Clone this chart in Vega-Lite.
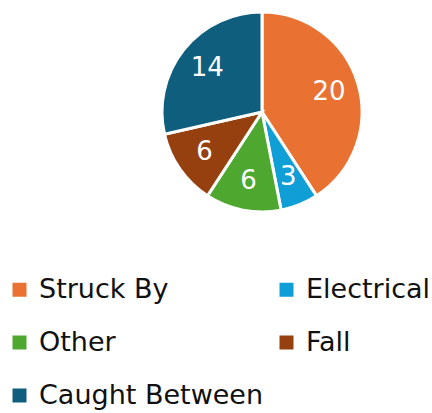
{
  "$schema": "https://vega.github.io/schema/vega-lite/v6.json",
  "width": 200,
  "height": 200,
  "autosize": {"type": "none"},
  "padding": {"left": 162, "top": 12, "right": 70, "bottom": 201},
  "background": "white",
  "config": {"view": {"stroke": null}},
  "data": {"values": [
    {"cause": "Struck By", "count": 20, "rank": 1},
    {"cause": "Electrical", "count": 3, "rank": 2},
    {"cause": "Other", "count": 6, "rank": 3},
    {"cause": "Fall", "count": 6, "rank": 4},
    {"cause": "Caught Between", "count": 14, "rank": 5}
  ]},
  "encoding": {
    "theta": {"field": "count", "type": "quantitative", "stack": true},
    "order": {"field": "rank", "type": "quantitative", "sort": "ascending"},
    "color": {
      "field": "cause", "type": "nominal",
      "sort": ["Struck By", "Electrical", "Other", "Fall", "Caught Between"],
      "scale": {
        "domain": ["Struck By", "Electrical", "Other", "Fall", "Caught Between"],
        "range": ["#E97132", "#0F9ED5", "#4EA72E", "#963F0F", "#0F5E7E"]
      },
      "legend": {
        "title": null,
        "orient": "none",
        "direction": "horizontal",
        "legendX": -156,
        "legendY": 264,
        "columns": 2,
        "columnPadding": 9,
        "rowPadding": 25,
        "symbolType": "square",
        "symbolSize": 196,
        "symbolStrokeWidth": 0,
        "labelFont": "DejaVu Sans",
        "labelFontSize": 27,
        "labelColor": "#111111",
        "labelOffset": 6,
        "labelLimit": 400
      }
    }
  },
  "layer": [
    {"mark": {"type": "arc", "outerRadius": 100, "stroke": "white", "strokeWidth": 3}},
    {"mark": {"type": "text", "radius": 70, "fontSize": 26, "font": "DejaVu Sans", "fill": "white"},
     "encoding": {"text": {"field": "count", "type": "quantitative"}, "color": {"value": "white"}}}
  ]
}
